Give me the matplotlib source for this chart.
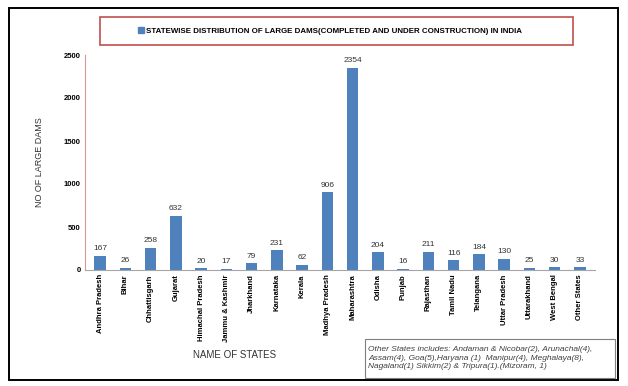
import matplotlib.pyplot as plt
from matplotlib.patches import Rectangle, Patch

states = ['Andhra Pradesh', 'Bihar', 'Chhattisgarh', 'Gujarat', 'Himachal Pradesh',
          'Jammu & Kashmir', 'Jharkhand', 'Karnataka', 'Kerala', 'Madhya Pradesh',
          'Maharashtra', 'Odisha', 'Punjab', 'Rajasthan', 'Tamil Nadu', 'Telangana',
          'Uttar Pradesh', 'Uttarakhand', 'West Bengal', 'Other States']
dams = [167, 26, 258, 632, 20, 17, 79, 231, 62, 906,
        2354, 204, 16, 211, 116, 184, 130, 25, 30, 33]
yticks = [0, 500, 1000, 1500, 2000, 2500]

title = 'STATEWISE DISTRIBUTION OF LARGE DAMS(COMPLETED AND UNDER CONSTRUCTION) IN INDIA'
note = ('Other States includes: Andaman & Nicobar(2), Arunachal(4),\n'
        'Assam(4), Goa(5),Haryana (1)  Manipur(4), Meghalaya(8),\n'
        'Nagaland(1) Sikkim(2) & Tripura(1).(Mizoram, 1)')

plt.rcParams['font.family'] = ['Liberation Sans', 'DejaVu Sans']

fig = plt.figure(figsize=(6.28, 3.86), dpi=100)
ax = fig.add_axes([85/628, 1 - 270/386, 510/628, 215/386])

bar_color = '#4f81bd'
x = range(len(states))
ax.bar(x, dams, width=0.45, color=bar_color)
for i, v in enumerate(dams):
    ax.text(i, v + 40, str(v), ha='center', va='bottom', fontsize=6, color='#333333')

ax.set_xlim(-0.6, len(states) - 0.4)
ax.set_ylim(0, 2500)
ax.set_yticks(yticks)
ax.set_yticklabels([str(t) for t in yticks], fontsize=5.5, fontweight='bold')
ax.set_xticks(list(x))
ax.set_xticklabels(states, rotation=90, fontsize=5.5, fontweight='bold')
ax.tick_params(axis='both', length=0, pad=3)
ax.spines['top'].set_visible(False)
ax.spines['right'].set_visible(False)
ax.spines['left'].set_color('#d99694')
ax.spines['left'].set_linewidth(0.8)
ax.spines['bottom'].set_color('#a6a6a6')
ax.spines['bottom'].set_linewidth(0.8)

ax.set_ylabel('NO OF LARGE DAMS', fontsize=6.5, color='#333333', labelpad=14)
fig.text(235/628, 1 - 355/386, 'NAME OF STATES', fontsize=7, color='#333333',
         ha='center', va='center')

# outer frame
fig.patches.append(Rectangle((9/628, 1 - 380/386), 609/628, 372/386, transform=fig.transFigure,
                             fill=False, edgecolor='black', linewidth=1.4))
# title box
fig.patches.append(Rectangle((100/628, 1 - 45/386), 473/628, 28/386, transform=fig.transFigure,
                             fill=False, edgecolor='#c0504d', linewidth=1.2))
fig.legend(handles=[Patch(color=bar_color, label=title)], loc='center',
           bbox_to_anchor=(330/628, 1 - 31/386), frameon=False,
           prop={'size': 5.65, 'weight': 'bold'}, handlelength=0.7, handleheight=0.7,
           handletextpad=0.3)

# note box
fig.patches.append(Rectangle((365/628, 1 - 378/386), 250/628, 39/386, transform=fig.transFigure,
                             fill=False, edgecolor='#7f7f7f', linewidth=0.8))
fig.text(368/628, 1 - 358/386, note, fontsize=6, style='italic', color='#404040',
         ha='left', va='center', linespacing=1.25)

fig.savefig('out.png', dpi=100)
